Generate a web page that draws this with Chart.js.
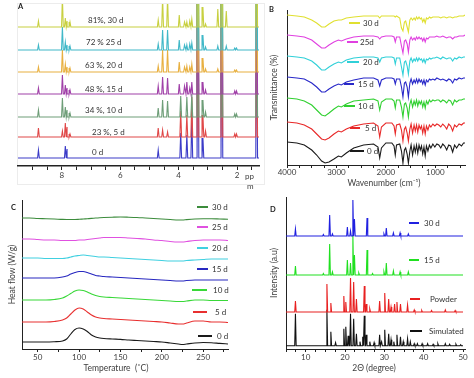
<!DOCTYPE html>
<html><head><meta charset="utf-8">
<script src="https://cdn.jsdelivr.net/npm/chart.js@4.4.0/dist/chart.umd.min.js"></script>
<style>
html,body{margin:0;padding:0;background:#fff;}
body{width:474px;height:378px;position:relative;overflow:hidden;}
canvas{position:absolute;}
#frameA{position:absolute;left:17px;top:3px;width:246px;height:180px;border:1px solid #ececec;}
</style></head><body>
<div id="frameA"></div>
<canvas id="cA" width="264" height="192" style="left:0;top:0"></canvas>
<canvas id="cB" width="237" height="192" style="left:237px;top:0"></canvas>
<canvas id="cC" width="237" height="183" style="left:0;top:195px"></canvas>
<canvas id="cD" width="237" height="183" style="left:237px;top:195px"></canvas>
<script>
// ---------- Panel A : 1H NMR ----------
const nmrSeries = ['0 d', '23 %, 5 d', '34 %, 10 d', '48 %, 15 d', '63 %, 20 d', '72 % 25 d', '81%, 30 d'];
const nmrPpm = [8.80, 7.98, 7.88, 7.82, 7.72, 4.70, 4.55, 4.38, 3.98, 3.93, 3.80, 3.72, 3.62, 3.55, 3.34, 3.17, 3.08, 2.66, 2.52, 2.37, 2.08, 2.02, 1.33];
const nmr0  = [8, 0, 12, 9, 0, 8, 0, 0, 0, 25, 0, 23, 0, 43, 190, 20, 0, 0, 190, 0, 0, 0, 190];
const nmr5  = [9, 6, 14, 10, 3, 9, 7, 5, 0, 26, 0, 22, 0, 40, 190, 22, 6, 0, 190, 0, 3, 3, 190];
const nmr10 = [7, 19, 10, 7, 4, 9, 17, 16, 0, 21, 0, 20, 0, 23, 190, 17, 5, 0, 190, 0, 3, 3, 190];
const nmr15 = [6, 19, 9, 6, 4, 8, 17, 16, 10, 0, 8, 12, 6, 12, 190, 12, 4, 0, 190, 0, 3, 3, 190];
const nmr20 = [5, 22, 8, 5, 4, 6, 22, 22, 10, 0, 5, 6, 5, 8, 190, 14, 3, 3, 190, 0, 2, 2, 190];
const nmr25 = [5, 23, 8, 5, 4, 6, 20, 20, 10, 0, 5, 5, 6, 7, 190, 15, 3, 4, 190, 4, 2, 2, 190];
const nmr30 = [6, 30, 9, 6, 5, 7, 30, 30, 12, 0, 5, 5, 6, 8, 190, 20, 3, 18, 190, 16, 0, 0, 190];
const nmrBase = [8, 29, 49, 72, 94, 116, 139];
const ppmTicks = [9, 8.5, 8, 7.5, 7, 6.5, 6, 5.5, 5, 4.5, 4, 3.5, 3, 2.5, 2, 1.5];
const ppmLabels = [8, 6, 4, 2];

// ---------- Panel B : FTIR ----------
const irSeries = ['0 d', '5 d', '10 d', '15 d', '20 d', '25d', '30 d'];
const irWn = [4000,3800,3650,3500,3400,3300,3230,3150,3050,2960,2900,2800,2650,2450,2250,2160,2125,2090,2000,1880,1835,1810,1785,1720,1685,1655,1625,1600,1570,1545,1515,1490,1460,1430,1405,1380,1355,1330,1305,1280,1255,1230,1205,1180,1150,1120,1090,1050,1010,970,930,890,850,810,770,730,690,650,610,570,520,470,430,400];
const ir0  = [0,1,3,8,13, 19,21,20,17,14, 15,11,6,3,2, 5,16,6,1,1, 4,13,3,2,9, 21,8,6,12,21, 9,3,13,4,10, 3,11,3,8,4, 12,5,14,4,9, 3,6,2,5,2, 3,6,2,4,8, 3,4,10,3,6, 2,4,1,1];
const ir5  = [0,1,3,7,12, 17,18,16,12,9, 10,7,4,2,1, 4,15,5,1,1, 4,12,3,2,8, 19,7,5,11,19, 7,2,11,3,9, 3,10,3,7,4, 11,4,12,4,8, 3,5,2,4,2, 3,5,2,4,7, 2,4,9,3,5, 2,3,1,1];
const ir10 = [0,1,3,7,12, 17,18,15,11,8, 9,6,3,2,1, 3,12,4,1,1, 3,10,2,2,9, 19,6,5,10,19, 6,2,9,3,7, 2,8,3,6,3, 9,4,10,3,6, 2,4,2,3,2, 2,4,2,3,5, 2,3,7,2,4, 2,2,1,1];
const ir15 = [0,1,2,6,10, 15,15,12,9,7, 8,5,3,1,1, 3,9,3,1,1, 2,7,2,2,10, 20,6,5,10,20, 6,2,7,3,6, 2,6,2,5,3, 7,3,8,3,5, 2,3,2,3,1, 2,3,2,3,4, 2,3,6,2,3, 1,2,1,1];
const ir20 = [0,1,2,5,9, 14,14,11,8,6, 7,4,2,1,1, 2,6,2,1,1, 2,8,2,2,11, 19,6,5,10,18, 5,2,6,3,5, 2,5,2,4,3, 6,3,7,3,4, 2,3,2,2,1, 2,3,1,2,3, 2,2,5,2,3, 1,2,1,1];
const ir25 = [0,1,2,5,9, 13,13,10,7,5, 6,4,2,1,1, 2,4,2,1,1, 2,7,2,2,11, 18,6,5,9,17, 5,2,5,3,5, 2,4,2,4,3, 6,3,7,3,4, 2,2,2,2,1, 2,2,1,2,3, 2,2,4,2,2, 1,1,1,0];
const ir30 = [0,1,2,5,8, 12,12,9,6,5, 5,3,2,1,1, 1,3,1,1,1, 1,2,1,3,13, 16,7,6,12,17, 5,3,5,3,5, 2,4,2,4,3, 7,4,8,3,4, 2,3,2,2,2, 2,3,2,2,3, 2,2,3,2,2, 1,1,1,0];
const irBase = [23, 43, 67, 88, 109, 130, 150];
const wnTicks = [4000,3750,3500,3250,3000,2750,2500,2250,2000,1750,1500,1250,1000,750,500];
const wnLabels = [4000, 3000, 2000, 1000];

// ---------- Panel C : DSC ----------
const dscSeries = ['0 d', '5 d', '10 d', '15 d', '20 d', '25 d', '30 d'];
const dscT = [31,40,50,60,70,80,85,90,95,100,105,110,115,120,125,130,140,150,160,170,180,190,200,210,220,225,230,240,250,260,270,280];
const dsc0  = [7,7,7,7,7.3, 8,10,15,19.5,21, 20,17.5,14,12,11, 10.5,10,9.6,9,8.5, 8,7.5,7,6,5, 4.5,5,6,6.5,6.3, 5.6,5];
const dsc5  = [27,27,27,27,27.5, 29,31,35,39,41, 40,37,34,32,31, 30.5,30,29.5,29,28.5, 28,27.5,27,26,25, 25,26,28,28,27, 27,26.5];
const dsc10 = [49,49,49,49,49.5, 51,53,55.5,58,59, 58.5,57,55,53.5,52.5, 52,51.5,51,50.5,50, 49.5,49,48.5,48,47.5, 47.5,48,49,49,48.5, 48.5,48.5];
const dsc15 = [71,71,71,71,71, 72,73,75,76.5,77.5, 77.5,76.5,75,73.5,73, 72.5,72,71.5,71,70.5, 70,69.5,69,68.5,68, 68,68.5,69,69,69, 69,69];
const dsc20 = [91,91,91,90.5,90.5, 90.5,91,92,93,93.5, 94,93.5,93,92.5,92, 92,91.5,91,90.5,90, 89.5,89,88.5,88,88, 88,88.5,89,89.5,90, 90,90];
const dsc25 = [110,110,109.5,109,109, 108.5,108.5,108.5,108.5,109, 109,109.5,110,110.5,111, 111.5,111.5,111.5,111,110.5, 110,109,108.5,107.5,107, 107,107.5,108.5,109,109, 109,108.5];
const dsc30 = [131,131,130.5,130.3,130, 129.6,129.5,129.5,129.5,129.7, 130,130.3,130.6,131,131.3, 131.5,131.8,132,131.8,131.5, 131,130.5,130,129.5,129, 129,129.4,130,130.2,130.2, 130,129.8];
const tTicks = [50,75,100,125,150,175,200,225,250,275];
const tLabels = [50,100,150,200,250];

// ---------- Panel D : PXRD ----------
const xrdSeries = ['Simulated', 'Powder', '15 d', '30 d'];
const simPos = [7.4,15.4,16.4,17.6,19.7,20.2,20.8,21.4,22.2,22.9,23.8,24.5,24.9,25.4,26.3,27.4,28.8,29.3,30.1,31.1,31.7,32.4,33.2,34.1,34.8,35.9,36.6,37.6,38.4,39.6,41,42.4,43.6,45.5,46.6,48.2,49.4];
const simH   = [32,36,14,3,17,19,10,32,27,12,4,9,30,11,4,3,11,4,16,12,6,4,11,9,4,7,4,2,2,2,2,1.5,2,2,1.5,1.5,1];
const powPos = [7.4,15.4,16.4,19.7,20.2,21.4,22.2,22.9,24.9,25.4,26.3,28.8,30.1,31.1,31.7,32.6,33.2,34.1,35.9,37.6,39.5,42,45.5,48];
const powH   = [11,28,9,16,10,34,30,13,26,8,3,11,19,13,5,8,10,8,7,2,1.5,1.5,2,1.5];
const d15Pos = [7.4,14.5,16.1,16.8,20.6,21.4,22.0,22.4,23.5,25.6,27,29.9,30.5,32.3,34.0,36.1];
const d15H   = [9,1.5,31,3,15,12,40,20,2,25,1.5,3,12,4,3,3];
const d30Pos = [7.4,14.5,16.1,16.8,20.6,21.4,22.0,22.4,25.6,29.9,30.5,32.3,34.0,36.1];
const d30H   = [7,1.5,21,2,9,5,36,17,18,2,8,3,3,2];
const xrdBase = [3.3, 37, 74, 113];
const thTicks = [5,7.5,10,12.5,15,17.5,20,22.5,25,27.5,30,32.5,35,37.5,40,42.5,45,47.5,50];
const thLabels = [10,20,30,40,50];

// ---------- helpers ----------
const FONT = 'Lato';
Chart.defaults.font.family = FONT;
const TXT = '#3a3a3a';

function spikes(pos, h, base, hw, xmin, xmax) {
  const pts = [{x: xmin, y: base}, {x: xmax, y: base}];
  pos.forEach((p, i) => { if (h[i] > 0) pts.push({x: p - hw, y: base}, {x: p, y: base + h[i]}, {x: p + hw, y: base}); });
  pts.sort((a, b) => a.x - b.x);
  return pts;
}
function curve(xs, ys, base, sign) {
  return xs.map((x, i) => ({x: x, y: base + sign * ys[i]}));
}

const overlay = {
  id: 'overlay',
  afterDraw(chart, args, o) {
    const ctx = chart.ctx;
    ctx.save();
    (o.lines || []).forEach(l => {
      ctx.strokeStyle = l.color; ctx.lineWidth = l.w || 2;
      ctx.beginPath(); ctx.moveTo(l.x1, l.y); ctx.lineTo(l.x2, l.y); ctx.stroke();
    });
    (o.texts || []).forEach(t => {
      ctx.font = t.font || ('8px ' + FONT);
      ctx.fillStyle = t.color || TXT;
      ctx.textAlign = t.align || 'left';
      ctx.textBaseline = 'middle';
      ctx.fillText(t.text, t.x, t.y);
    });
    ctx.restore();
  }
};

function xAxis(min, max, reverse, tickVals, labelVals, tickLen, pad, axisH, bw) {
  return {
    type: 'linear', min: min, max: max, reverse: reverse,
    afterBuildTicks: s => { s.ticks = tickVals.map(v => ({value: v})); },
    afterFit: s => { s.height = axisH; },
    ticks: { autoSkip: false, maxRotation: 0, padding: pad, color: '#404040', font: {size: 8},
             callback: v => labelVals.includes(v) ? String(v) : '' },
    grid: { display: true, drawOnChartArea: false, drawTicks: true, tickLength: tickLen, color: '#222', lineWidth: 1 },
    border: { display: true, color: '#222', width: bw || 1 }
  };
}
function yAxis(min, max, title, width) {
  if (!title) return { display: false, min: min, max: max };
  return {
    type: 'linear', min: min, max: max,
    afterFit: s => { s.width = width; },
    ticks: { display: false },
    grid: { display: false, drawTicks: false },
    border: { display: true, color: '#222', width: 1 },
    title: { display: true, text: title, color: '#404040', font: {size: 8.5}, padding: {top: 0, bottom: 0} }
  };
}
function lineDs(label, data, color, order, smooth) {
  return { label: label, data: data, borderColor: color, backgroundColor: color, borderWidth: 1.1,
           pointRadius: 0, fill: false, order: order, tension: 0,
           cubicInterpolationMode: smooth ? 'monotone' : 'default' };
}
const common = { responsive: false, animation: false, devicePixelRatio: 1, parsing: true,
                 events: [] };

// ---------- Chart A ----------
const nmrCols = ['#3c3cc8', '#e04848', '#6e9e78', '#a040a8', '#e8b040', '#40b8c8', '#c8d040'];
const nmrH = [nmr0, nmr5, nmr10, nmr15, nmr20, nmr25, nmr30];
const nmrLabelPos = [[92,152],[92,132],[85,110],[85,89],[85,65],[86,42],[88,20]];
new Chart(document.getElementById('cA'), {
  type: 'line',
  data: { datasets: nmrSeries.map((n, i) => lineDs(n, spikes(nmrPpm, nmrH[i], nmrBase[i], 0.03, 1.25, 9.5), nmrCols[i], 7 - i)) },
  options: Object.assign({}, common, {
    layout: { padding: { left: 18, right: 5, top: 4, bottom: 0 } },
    scales: { x: xAxis(1.25, 9.5, true, ppmTicks, ppmLabels, 4, 1, 26, 1.5), y: yAxis(0, 162) },
    plugins: { legend: {display: false}, tooltip: {enabled: false},
      overlay: { texts: [
        {text: 'A', x: 18, y: 7, font: 'bold 7.5px ' + FONT, color: '#222'},
        {text: 'pp', x: 245, y: 176, font: '8px ' + FONT, color: '#404040'},
        {text: 'm', x: 247, y: 186, font: '8px ' + FONT, color: '#404040'}
      ].concat(nmrSeries.map((n, i) => ({text: n, x: nmrLabelPos[i][0], y: nmrLabelPos[i][1], font: '8px ' + FONT, color: '#333'}))) } }
  }),
  plugins: [overlay]
});

// ---------- Chart B ----------
const irCols = ['#1a1a1a', '#e82828', '#30d030', '#2828c8', '#30d0d8', '#e040e0', '#e0e030'];
const irD = [ir0, ir5, ir10, ir15, ir20, ir25, ir30];
const irLeg = [[113,127,151,130],[113,123,128,128],[107,118,106,121],[107,117,84,121],[110,122,62,126],[110,121,42,123],[112,123,23,126]];
new Chart(document.getElementById('cB'), {
  type: 'line',
  data: { datasets: irSeries.map((n, i) => lineDs(n, curve(irWn, irD[i], irBase[i], -1), irCols[i], 7 - i)) },
  options: Object.assign({}, common, {
    layout: { padding: { left: 32, right: 9, top: 10, bottom: 0 } },
    scales: { x: xAxis(400, 4000, true, wnTicks, wnLabels, 3, 0, 27), y: yAxis(0, 155, 'Transmittance (%)', 18) },
    plugins: { legend: {display: false}, tooltip: {enabled: false},
      overlay: {
        lines: irSeries.map((n, i) => ({x1: irLeg[i][0], x2: irLeg[i][1], y: irLeg[i][2], color: irCols[i], w: 2})),
        texts: [
          {text: 'B', x: 32, y: 10, font: 'bold 7.5px ' + FONT, color: '#222'},
          {text: 'Wavenumber (cm\u207B\u00B9)', x: 147, y: 183, align: 'center', font: '8.5px ' + FONT, color: '#404040'}
        ].concat(irSeries.map((n, i) => ({text: n, x: irLeg[i][3], y: irLeg[i][2], font: '8px ' + FONT, color: '#333'}))) } }
  }),
  plugins: [overlay]
});

// ---------- Chart C ----------
const dscCols = ['#1a1a1a', '#e83030', '#38d838', '#2828c0', '#40d0e0', '#e050e0', '#3c8c3c'];
const dscY = [dsc0, dsc5, dsc10, dsc15, dsc20, dsc25, dsc30];
const dscLeg = [[198,212,141,217],[193,207,117,215],[192,207,95,213],[197,208,74,212],[197,208,53,212],[197,208,32,212],[197,208,12,212]];
new Chart(document.getElementById('cC'), {
  type: 'line',
  data: { datasets: dscSeries.map((n, i) => lineDs(n, curve(dscT, dscY[i], 0, 1), dscCols[i], 7 - i, true)) },
  options: Object.assign({}, common, {
    layout: { padding: { left: 7, right: 9, top: 5, bottom: 0 } },
    scales: { x: xAxis(31, 280, false, tTicks, tLabels, 3, 1, 29), y: yAxis(0, 149, 'Heat flow (W/g)', 15) },
    plugins: { legend: {display: false}, tooltip: {enabled: false},
      overlay: {
        lines: dscSeries.map((n, i) => ({x1: dscLeg[i][0], x2: dscLeg[i][1], y: dscLeg[i][2], color: dscCols[i], w: 2})),
        texts: [
          {text: 'C', x: 11, y: 13, font: 'bold 7.5px ' + FONT, color: '#222'},
          {text: 'Temperature  (\u02DAC)', x: 116, y: 173, align: 'center', font: '8.5px ' + FONT, color: '#404040'}
        ].concat(dscSeries.map((n, i) => ({text: n, x: dscLeg[i][3], y: dscLeg[i][2], font: '8px ' + FONT, color: '#333'}))) } }
  }),
  plugins: [overlay]
});

// ---------- Chart D ----------
const xrdCols = ['#111111', '#e82020', '#20e020', '#2020e0'];
const xrdP = [[simPos, simH], [powPos, powH], [d15Pos, d15H], [d30Pos, d30H]];
const xrdLeg = [[173,185,136,192],[173,183,104,193],[172,182,65,187],[172,182,28,187]];
new Chart(document.getElementById('cD'), {
  type: 'line',
  data: { datasets: xrdSeries.map((n, i) => lineDs(n, spikes(xrdP[i][0], xrdP[i][1], xrdBase[i], 0.18, 5, 50), xrdCols[i], 4 - i)) },
  options: Object.assign({}, common, {
    layout: { padding: { left: 32, right: 9, top: 2, bottom: 0 } },
    scales: { x: xAxis(5, 50.5, false, thTicks, thLabels, 3, 1, 29), y: yAxis(0, 152, 'Intensity (a.u)', 17) },
    plugins: { legend: {display: false}, tooltip: {enabled: false},
      overlay: {
        lines: xrdSeries.map((n, i) => ({x1: xrdLeg[i][0], x2: xrdLeg[i][1], y: xrdLeg[i][2], color: xrdCols[i], w: 2})),
        texts: [
          {text: 'D', x: 33, y: 15, font: 'bold 7.5px ' + FONT, color: '#222'},
          {text: '2\u0398 (degree)', x: 137, y: 173, align: 'center', font: '8.5px ' + FONT, color: '#404040'}
        ].concat(xrdSeries.map((n, i) => ({text: n, x: xrdLeg[i][3], y: xrdLeg[i][2], font: '8px ' + FONT, color: '#333'}))) } }
  }),
  plugins: [overlay]
});
</script>
</body></html>
